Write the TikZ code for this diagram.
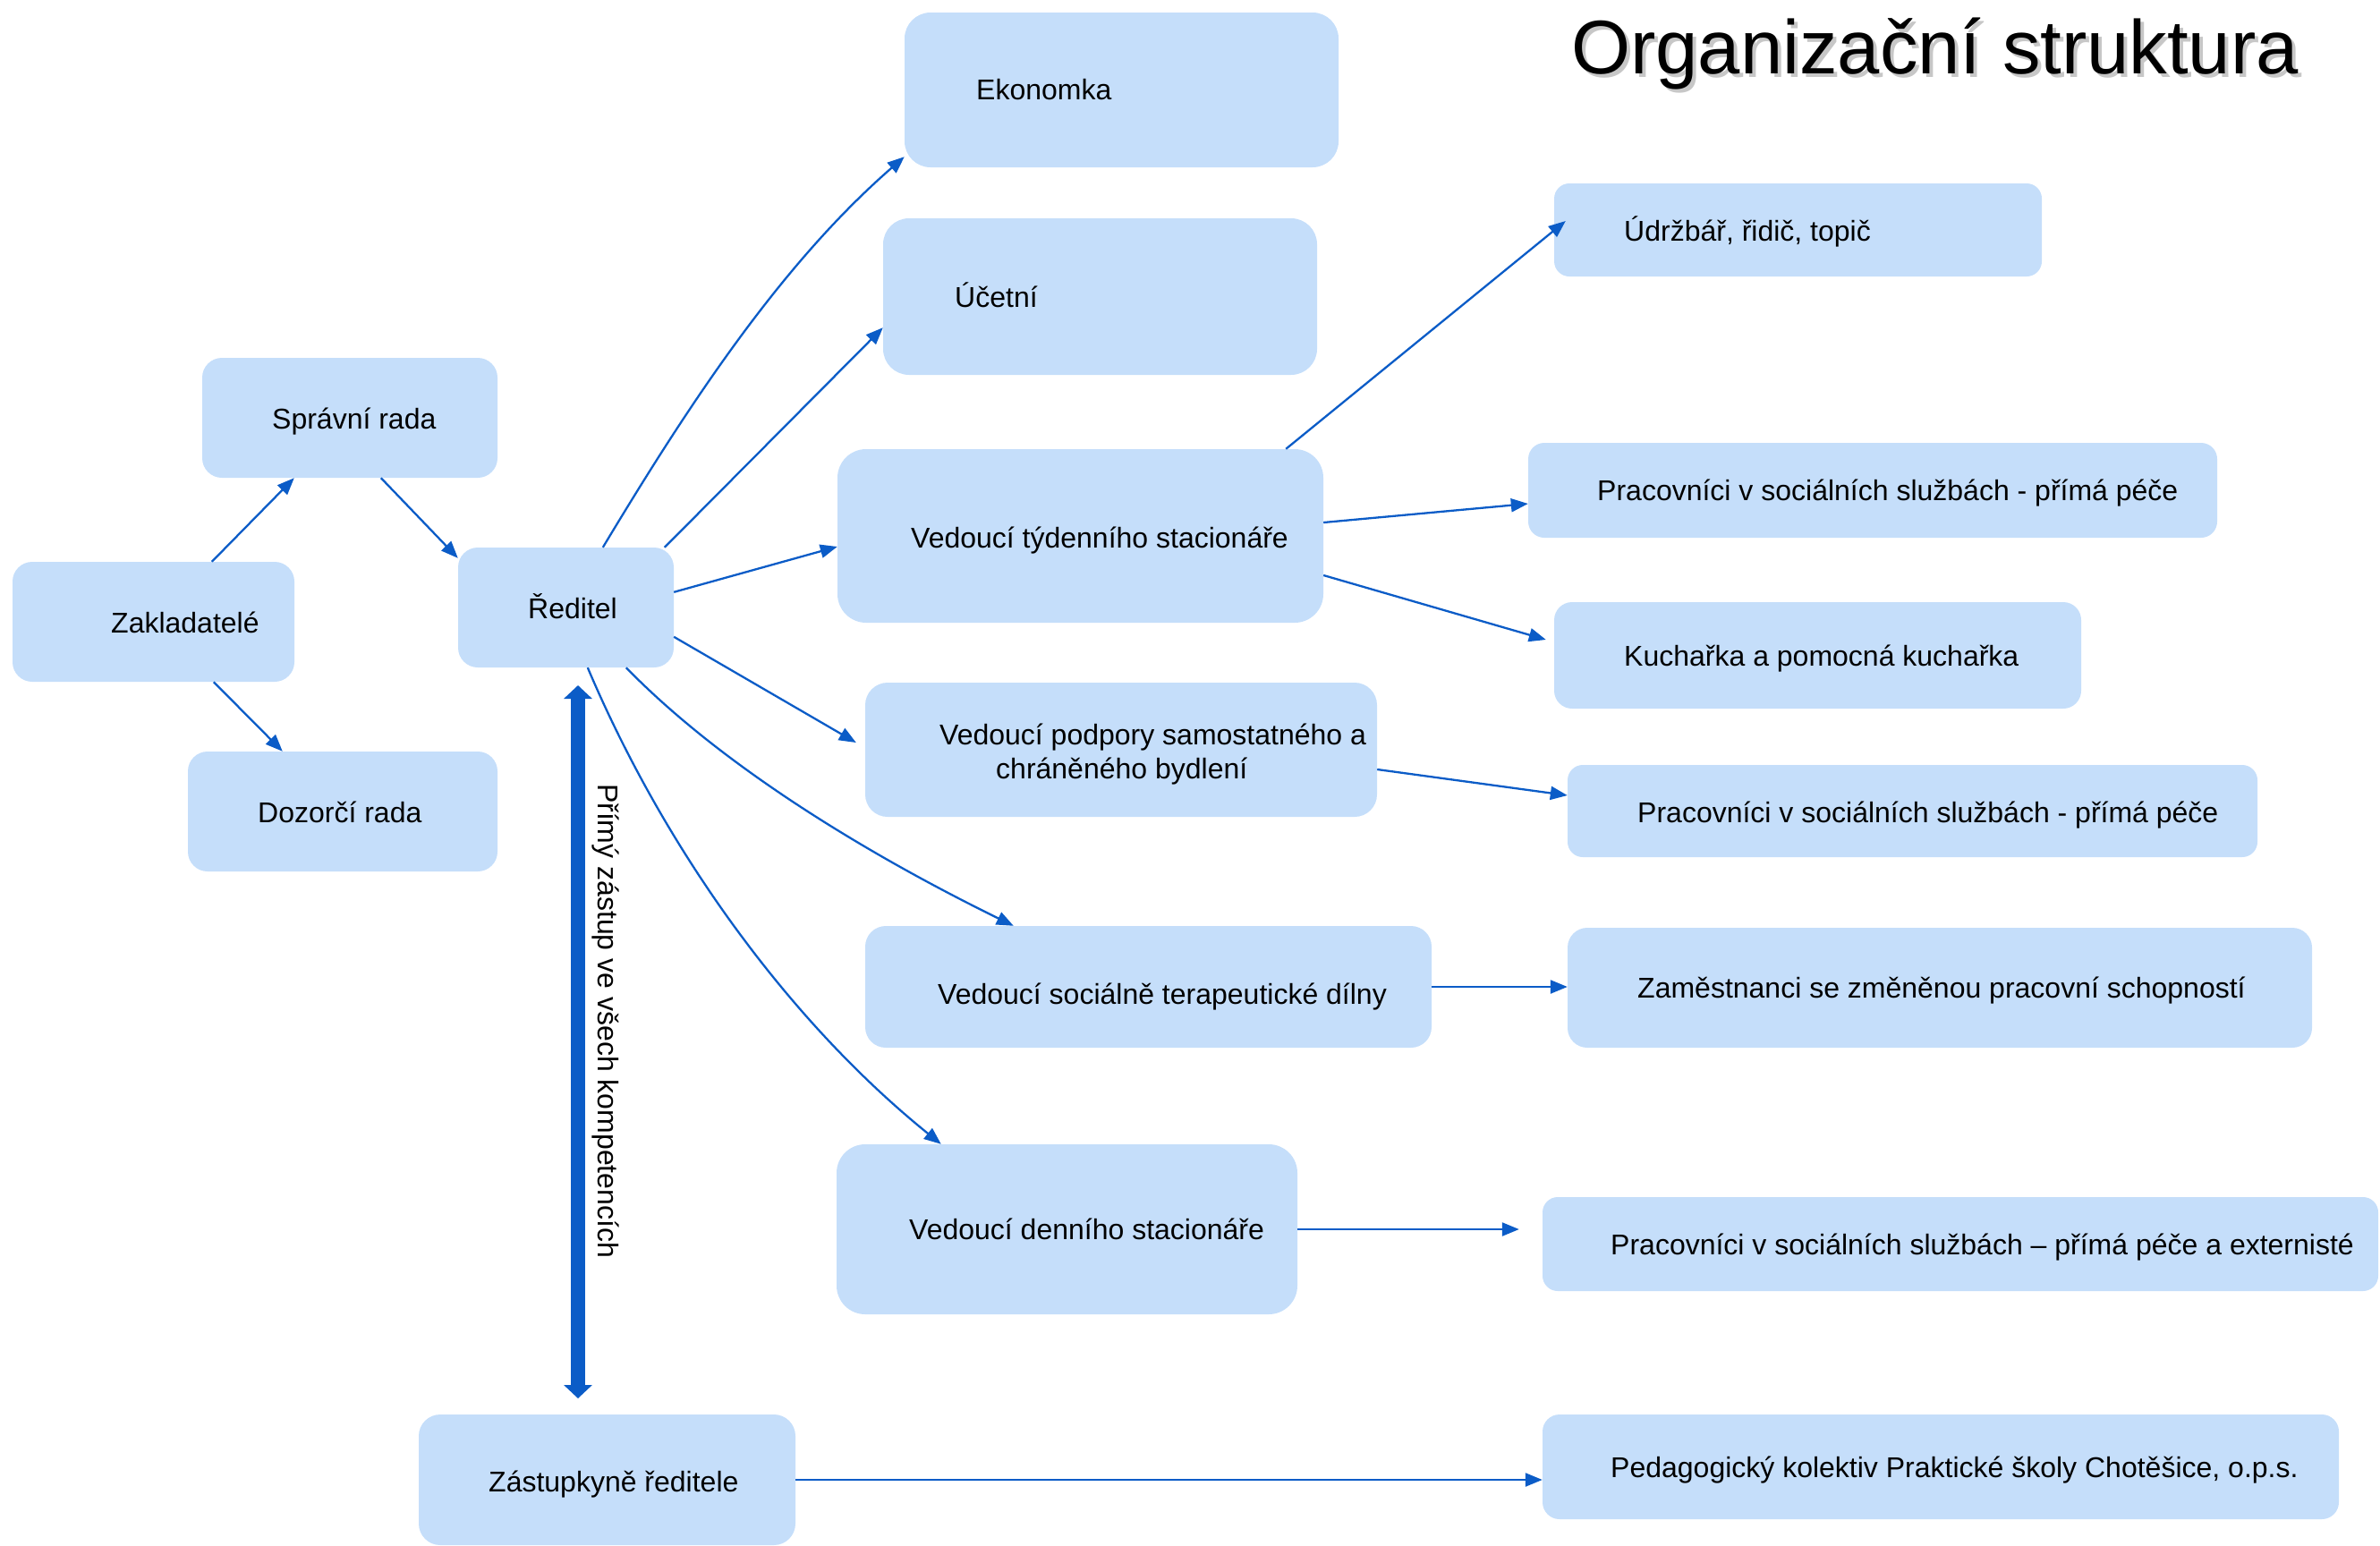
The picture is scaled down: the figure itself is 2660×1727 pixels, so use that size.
\documentclass[tikz,border=0pt]{standalone}
\usepackage{fontspec}
\setmainfont{Liberation Sans}
\usetikzlibrary{arrows.meta}
\definecolor{boxfill}{RGB}{197,222,250}
\definecolor{linkblue}{RGB}{11,92,199}
\begin{document}
\begin{tikzpicture}[x=1pt,y=-1pt,
  box/.style={fill=boxfill, draw=none, inner sep=0pt},
  txt/.style={inner sep=0pt, anchor=base west, font=\fontsize{32}{38}\selectfont},
  titletxt/.style={inner sep=0pt, anchor=base west, font=\fontsize{85}{100}\selectfont},
  link/.style={draw=linkblue, line width=2.3pt, -{Triangle[length=19pt,width=15pt]}},
  bigarrow/.style={draw=linkblue, line width=15.5pt, {Triangle[length=15pt,width=31pt]}-{Triangle[length=15pt,width=31pt]}}
]
\useasboundingbox (0,0) rectangle (2660,1727);

% boxes
\node[box, minimum width=485pt, minimum height=173pt, rounded corners=29pt] (eko) at (1253.5,100.5) {};
\node[box, minimum width=485pt, minimum height=175pt, rounded corners=29pt] (uce) at (1229.5,331.5) {};
\node[box, minimum width=330pt, minimum height=134pt, rounded corners=22pt] (spr) at (391,467) {};
\node[box, minimum width=315pt, minimum height=134pt, rounded corners=22pt] (zak) at (171.5,695) {};
\node[box, minimum width=346pt, minimum height=134pt, rounded corners=22pt] (doz) at (383,907) {};
\node[box, minimum width=241pt, minimum height=134pt, rounded corners=22pt] (red) at (632.5,679) {};
\node[box, minimum width=543pt, minimum height=194pt, rounded corners=32pt] (tyd) at (1207.5,599) {};
\node[box, minimum width=572pt, minimum height=150pt, rounded corners=25pt] (pod) at (1253,838) {};
\node[box, minimum width=633pt, minimum height=136pt, rounded corners=23pt] (soc) at (1283.5,1103) {};
\node[box, minimum width=515pt, minimum height=190pt, rounded corners=32pt] (den) at (1192.5,1374) {};
\node[box, minimum width=421pt, minimum height=146pt, rounded corners=24pt] (zas) at (678.5,1654) {};
\node[box, minimum width=545pt, minimum height=104pt, rounded corners=17pt] (udr) at (2009.5,257) {};
\node[box, minimum width=770pt, minimum height=106pt, rounded corners=18pt] (pr1) at (2093,548) {};
\node[box, minimum width=589pt, minimum height=119pt, rounded corners=20pt] (kuc) at (2031.5,732.5) {};
\node[box, minimum width=771pt, minimum height=103pt, rounded corners=17pt] (pr2) at (2137.5,906.5) {};
\node[box, minimum width=832pt, minimum height=134pt, rounded corners=22pt] (zam) at (2168,1104) {};
\node[box, minimum width=934pt, minimum height=105pt, rounded corners=17pt] (prx) at (2191,1390.5) {};
\node[box, minimum width=890pt, minimum height=117pt, rounded corners=19pt] (ped) at (2169,1639.5) {};

% texts
\node[txt] (teko) at (1091,111) {Ekonomka};
\node[txt] (tuce) at (1067,343) {Účetní};
\node[txt] (tspr) at (304,479) {Správní rada};
\node[txt] (tzak) at (124,707) {Zakladatelé};
\node[txt] (tdoz) at (288,919) {Dozorčí rada};
\node[txt] (tred) at (590,691) {Ředitel};
\node[txt] (ttyd) at (1018,612) {Vedoucí týdenního stacionáře};
\node[txt] (tpoda) at (1050,832) {Vedoucí podpory samostatného a};
\node[txt] (tpodb) at (1113,870) {chráněného bydlení};
\node[txt] (tsoc) at (1048,1122) {Vedoucí sociálně terapeutické dílny};
\node[txt] (tden) at (1016,1385) {Vedoucí denního stacionáře};
\node[txt] (tzas) at (546,1667) {Zástupkyně ředitele};
\node[txt] (tudr) at (1815,269) {Údržbář, řidič, topič};
\node[txt] (tpr1) at (1785,559) {Pracovníci v sociálních službách - přímá péče};
\node[txt] (tkuc) at (1815,744) {Kuchařka a pomocná kuchařka};
\node[txt] (tpr2) at (1830,919) {Pracovníci v sociálních službách - přímá péče};
\node[txt] (tzam) at (1830,1115) {Zaměstnanci se změněnou pracovní schopností};
\node[txt] (tprx) at (1800,1402) {Pracovníci v sociálních službách – přímá péče a externisté};
\node[txt] (tped) at (1800,1651) {Pedagogický kolektiv Praktické školy Chotěšice, o.p.s.};

% title with shadow
\node[titletxt, text=black!40, opacity=0.55] (titleshadow) at (1760,86) {Organizační struktura};
\node[titletxt] (title) at (1756,82) {Organizační struktura};

% left arrows
\draw[link] ([xshift=223pt]zak.north west) -- ([xshift=103pt]spr.south west);
\draw[link] ([xshift=200pt]spr.south west) -- ([yshift=-12pt]red.north west);
\draw[link] ([xshift=225pt]zak.south west) -- ([xshift=106pt]doz.north west);

% from director
\draw[link] ([xshift=162pt]red.north west) .. controls +(95,-158) and +(-139,121) .. ([yshift=12pt]eko.south west);
\draw[link] ([xshift=231pt]red.north west) -- ([yshift=53pt]uce.south west);
\draw[link] ([yshift=-50pt]red.north east) -- ([yshift=-12pt]tyd.west);
\draw[link] ([yshift=-100pt]red.north east) -- ([xshift=-10pt,yshift=8pt]pod.west);
\draw[link] ([xshift=188pt]red.south west) .. controls +(112,115) and +(-153,-75) .. ([xshift=166pt]soc.north west);
\draw[link] ([xshift=145pt]red.south west) .. controls +(86,203) and +(-171,-138) .. ([xshift=117pt]den.north west);

% deputy arrow
\coordinate (dtop) at (646,766);
\coordinate (dbot) at (646,1563);
\draw[bigarrow] (dtop) -- (dbot);
\node[inner sep=0pt, rotate=-90, font=\fontsize{32}{38}\selectfont] (lbl) at (677,1141) {Přímý zástup ve všech kompetencích};

% right arrows
\draw[link] ([xshift=-42pt]tyd.north east) -- ([xshift=13pt,yshift=10pt]udr.west);
\draw[link] ([yshift=15pt]tyd.east) -- ([yshift=-15pt]pr1.west);
\draw[link] ([yshift=-44pt]tyd.east) -- ([xshift=-9pt,yshift=17.5pt]kuc.west);
\draw[link] ([yshift=-22pt]pod.east) -- ([yshift=17.5pt]pr2.west);
\draw[link] (soc.east) -- (soc.east -| zam.west);
\draw[link] (den.east) -- ([xshift=-26pt]prx.west |- den.east);
\draw[link] (zas.east) -- (zas.east -| ped.west);
\end{tikzpicture}
\end{document}
